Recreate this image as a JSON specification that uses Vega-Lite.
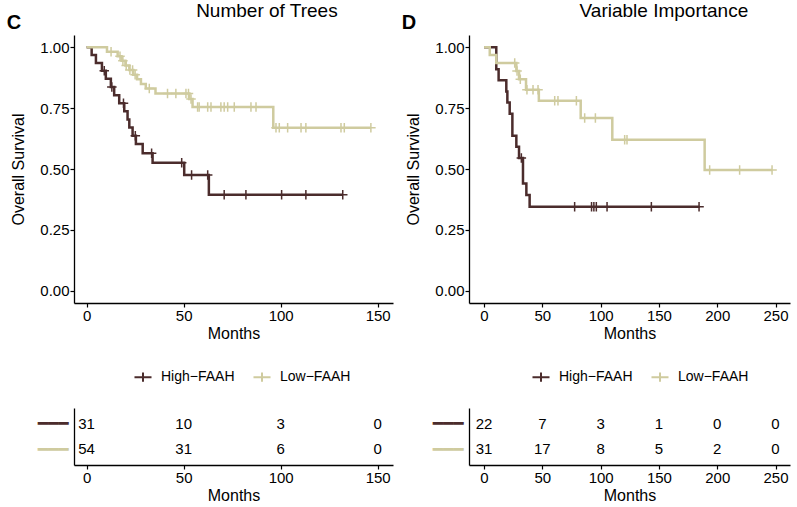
{
  "$schema": "https://vega.github.io/schema/vega-lite/v6.json",
  "padding": {"top": 2, "left": 6, "right": 2, "bottom": 0},
  "background": "white",
  "datasets": {
    "km": [
      {"panel": "C", "group": "High−FAAH", "t": 0, "s": 1},
      {"panel": "C", "group": "High−FAAH", "t": 2.6, "s": 0.968},
      {"panel": "C", "group": "High−FAAH", "t": 4.8, "s": 0.935},
      {"panel": "C", "group": "High−FAAH", "t": 7.9, "s": 0.903},
      {"panel": "C", "group": "High−FAAH", "t": 9.9, "s": 0.870},
      {"panel": "C", "group": "High−FAAH", "t": 12.5, "s": 0.837},
      {"panel": "C", "group": "High−FAAH", "t": 14.2, "s": 0.803},
      {"panel": "C", "group": "High−FAAH", "t": 16.8, "s": 0.770},
      {"panel": "C", "group": "High−FAAH", "t": 19.4, "s": 0.737},
      {"panel": "C", "group": "High−FAAH", "t": 21.1, "s": 0.703},
      {"panel": "C", "group": "High−FAAH", "t": 22.0, "s": 0.670},
      {"panel": "C", "group": "High−FAAH", "t": 23.7, "s": 0.636},
      {"panel": "C", "group": "High−FAAH", "t": 25.4, "s": 0.603},
      {"panel": "C", "group": "High−FAAH", "t": 28.9, "s": 0.565},
      {"panel": "C", "group": "High−FAAH", "t": 34.0, "s": 0.526},
      {"panel": "C", "group": "High−FAAH", "t": 50.3, "s": 0.475},
      {"panel": "C", "group": "High−FAAH", "t": 63.0, "s": 0.394},
      {"panel": "C", "group": "High−FAAH", "t": 132.0, "s": 0.394},
      {"panel": "C", "group": "Low−FAAH", "t": 0, "s": 1},
      {"panel": "C", "group": "Low−FAAH", "t": 10.5, "s": 0.981},
      {"panel": "C", "group": "Low−FAAH", "t": 16, "s": 0.963},
      {"panel": "C", "group": "Low−FAAH", "t": 18, "s": 0.944},
      {"panel": "C", "group": "Low−FAAH", "t": 20, "s": 0.925},
      {"panel": "C", "group": "Low−FAAH", "t": 22, "s": 0.906},
      {"panel": "C", "group": "Low−FAAH", "t": 24, "s": 0.887},
      {"panel": "C", "group": "Low−FAAH", "t": 26, "s": 0.868},
      {"panel": "C", "group": "Low−FAAH", "t": 28, "s": 0.849},
      {"panel": "C", "group": "Low−FAAH", "t": 30.5, "s": 0.830},
      {"panel": "C", "group": "Low−FAAH", "t": 35.5, "s": 0.810},
      {"panel": "C", "group": "Low−FAAH", "t": 52.9, "s": 0.787},
      {"panel": "C", "group": "Low−FAAH", "t": 54.6, "s": 0.754},
      {"panel": "C", "group": "Low−FAAH", "t": 96.2, "s": 0.669},
      {"panel": "C", "group": "Low−FAAH", "t": 146.5, "s": 0.669},
      {"panel": "D", "group": "High−FAAH", "t": 0, "s": 1},
      {"panel": "D", "group": "High−FAAH", "t": 10.5, "s": 0.909},
      {"panel": "D", "group": "High−FAAH", "t": 12.5, "s": 0.864},
      {"panel": "D", "group": "High−FAAH", "t": 19.1, "s": 0.818},
      {"panel": "D", "group": "High−FAAH", "t": 20.0, "s": 0.773},
      {"panel": "D", "group": "High−FAAH", "t": 22.0, "s": 0.727},
      {"panel": "D", "group": "High−FAAH", "t": 24.3, "s": 0.636},
      {"panel": "D", "group": "High−FAAH", "t": 27.7, "s": 0.591},
      {"panel": "D", "group": "High−FAAH", "t": 30.0, "s": 0.545},
      {"panel": "D", "group": "High−FAAH", "t": 33.4, "s": 0.440},
      {"panel": "D", "group": "High−FAAH", "t": 36.3, "s": 0.393},
      {"panel": "D", "group": "High−FAAH", "t": 39.1, "s": 0.345},
      {"panel": "D", "group": "High−FAAH", "t": 184.9, "s": 0.345},
      {"panel": "D", "group": "Low−FAAH", "t": 0, "s": 1},
      {"panel": "D", "group": "Low−FAAH", "t": 4.9, "s": 0.968},
      {"panel": "D", "group": "Low−FAAH", "t": 10.5, "s": 0.935},
      {"panel": "D", "group": "Low−FAAH", "t": 27.7, "s": 0.902},
      {"panel": "D", "group": "Low−FAAH", "t": 30.0, "s": 0.868},
      {"panel": "D", "group": "Low−FAAH", "t": 36.0, "s": 0.825},
      {"panel": "D", "group": "Low−FAAH", "t": 47.0, "s": 0.780},
      {"panel": "D", "group": "Low−FAAH", "t": 82.9, "s": 0.709},
      {"panel": "D", "group": "Low−FAAH", "t": 110.0, "s": 0.620},
      {"panel": "D", "group": "Low−FAAH", "t": 189.2, "s": 0.496},
      {"panel": "D", "group": "Low−FAAH", "t": 247.0, "s": 0.496}
    ],
    "cens": [
      {"panel": "C", "group": "High−FAAH", "t": 9.1, "s": 0.903},
      {"panel": "C", "group": "High−FAAH", "t": 13.0, "s": 0.837},
      {"panel": "C", "group": "High−FAAH", "t": 19.0, "s": 0.770},
      {"panel": "C", "group": "High−FAAH", "t": 25.1, "s": 0.636},
      {"panel": "C", "group": "High−FAAH", "t": 33.5, "s": 0.565},
      {"panel": "C", "group": "High−FAAH", "t": 49.0, "s": 0.526},
      {"panel": "C", "group": "High−FAAH", "t": 54.1, "s": 0.475},
      {"panel": "C", "group": "High−FAAH", "t": 62.4, "s": 0.475},
      {"panel": "C", "group": "High−FAAH", "t": 70.9, "s": 0.394},
      {"panel": "C", "group": "High−FAAH", "t": 82.1, "s": 0.394},
      {"panel": "C", "group": "High−FAAH", "t": 100.5, "s": 0.394},
      {"panel": "C", "group": "High−FAAH", "t": 113.0, "s": 0.394},
      {"panel": "C", "group": "High−FAAH", "t": 132.0, "s": 0.394},
      {"panel": "C", "group": "Low−FAAH", "t": 12.6, "s": 0.981},
      {"panel": "C", "group": "Low−FAAH", "t": 17.2, "s": 0.963},
      {"panel": "C", "group": "Low−FAAH", "t": 18.7, "s": 0.944},
      {"panel": "C", "group": "Low−FAAH", "t": 20.4, "s": 0.925},
      {"panel": "C", "group": "Low−FAAH", "t": 22.3, "s": 0.906},
      {"panel": "C", "group": "Low−FAAH", "t": 23.7, "s": 0.906},
      {"panel": "C", "group": "Low−FAAH", "t": 25.0, "s": 0.887},
      {"panel": "C", "group": "Low−FAAH", "t": 32.3, "s": 0.830},
      {"panel": "C", "group": "Low−FAAH", "t": 41.7, "s": 0.810},
      {"panel": "C", "group": "Low−FAAH", "t": 46.0, "s": 0.810},
      {"panel": "C", "group": "Low−FAAH", "t": 51.2, "s": 0.810},
      {"panel": "C", "group": "Low−FAAH", "t": 52.5, "s": 0.810},
      {"panel": "C", "group": "Low−FAAH", "t": 53.8, "s": 0.787},
      {"panel": "C", "group": "Low−FAAH", "t": 57.2, "s": 0.754},
      {"panel": "C", "group": "Low−FAAH", "t": 58.0, "s": 0.754},
      {"panel": "C", "group": "Low−FAAH", "t": 62.4, "s": 0.754},
      {"panel": "C", "group": "Low−FAAH", "t": 64.1, "s": 0.754},
      {"panel": "C", "group": "Low−FAAH", "t": 69.2, "s": 0.754},
      {"panel": "C", "group": "Low−FAAH", "t": 70.9, "s": 0.754},
      {"panel": "C", "group": "Low−FAAH", "t": 72.7, "s": 0.754},
      {"panel": "C", "group": "Low−FAAH", "t": 76.1, "s": 0.754},
      {"panel": "C", "group": "Low−FAAH", "t": 84.7, "s": 0.754},
      {"panel": "C", "group": "Low−FAAH", "t": 87.3, "s": 0.754},
      {"panel": "C", "group": "Low−FAAH", "t": 97.6, "s": 0.669},
      {"panel": "C", "group": "Low−FAAH", "t": 99.3, "s": 0.669},
      {"panel": "C", "group": "Low−FAAH", "t": 103.6, "s": 0.669},
      {"panel": "C", "group": "Low−FAAH", "t": 110.5, "s": 0.669},
      {"panel": "C", "group": "Low−FAAH", "t": 113.0, "s": 0.669},
      {"panel": "C", "group": "Low−FAAH", "t": 131.1, "s": 0.669},
      {"panel": "C", "group": "Low−FAAH", "t": 132.8, "s": 0.669},
      {"panel": "C", "group": "Low−FAAH", "t": 146.5, "s": 0.669},
      {"panel": "D", "group": "High−FAAH", "t": 32.0, "s": 0.545},
      {"panel": "D", "group": "High−FAAH", "t": 77.7, "s": 0.345},
      {"panel": "D", "group": "High−FAAH", "t": 92.2, "s": 0.345},
      {"panel": "D", "group": "High−FAAH", "t": 94.2, "s": 0.345},
      {"panel": "D", "group": "High−FAAH", "t": 96.3, "s": 0.345},
      {"panel": "D", "group": "High−FAAH", "t": 105.5, "s": 0.345},
      {"panel": "D", "group": "High−FAAH", "t": 143.5, "s": 0.345},
      {"panel": "D", "group": "High−FAAH", "t": 184.4, "s": 0.345},
      {"panel": "D", "group": "Low−FAAH", "t": 26.3, "s": 0.935},
      {"panel": "D", "group": "Low−FAAH", "t": 28.3, "s": 0.902},
      {"panel": "D", "group": "Low−FAAH", "t": 31.1, "s": 0.868},
      {"panel": "D", "group": "Low−FAAH", "t": 36.8, "s": 0.825},
      {"panel": "D", "group": "Low−FAAH", "t": 42.0, "s": 0.825},
      {"panel": "D", "group": "Low−FAAH", "t": 46.3, "s": 0.825},
      {"panel": "D", "group": "Low−FAAH", "t": 60.6, "s": 0.780},
      {"panel": "D", "group": "Low−FAAH", "t": 63.4, "s": 0.780},
      {"panel": "D", "group": "Low−FAAH", "t": 79.2, "s": 0.780},
      {"panel": "D", "group": "Low−FAAH", "t": 86.3, "s": 0.709},
      {"panel": "D", "group": "Low−FAAH", "t": 95.5, "s": 0.709},
      {"panel": "D", "group": "Low−FAAH", "t": 120.6, "s": 0.620},
      {"panel": "D", "group": "Low−FAAH", "t": 122.6, "s": 0.620},
      {"panel": "D", "group": "Low−FAAH", "t": 193.5, "s": 0.496},
      {"panel": "D", "group": "Low−FAAH", "t": 219.2, "s": 0.496},
      {"panel": "D", "group": "Low−FAAH", "t": 247.0, "s": 0.496}
    ],
    "risk": [
      {"panel": "C", "group": "High−FAAH", "t": 0, "n": 31},
      {"panel": "C", "group": "High−FAAH", "t": 50, "n": 10},
      {"panel": "C", "group": "High−FAAH", "t": 100, "n": 3},
      {"panel": "C", "group": "High−FAAH", "t": 150, "n": 0},
      {"panel": "C", "group": "Low−FAAH", "t": 0, "n": 54},
      {"panel": "C", "group": "Low−FAAH", "t": 50, "n": 31},
      {"panel": "C", "group": "Low−FAAH", "t": 100, "n": 6},
      {"panel": "C", "group": "Low−FAAH", "t": 150, "n": 0},
      {"panel": "D", "group": "High−FAAH", "t": 0, "n": 22},
      {"panel": "D", "group": "High−FAAH", "t": 50, "n": 7},
      {"panel": "D", "group": "High−FAAH", "t": 100, "n": 3},
      {"panel": "D", "group": "High−FAAH", "t": 150, "n": 1},
      {"panel": "D", "group": "High−FAAH", "t": 200, "n": 0},
      {"panel": "D", "group": "High−FAAH", "t": 250, "n": 0},
      {"panel": "D", "group": "Low−FAAH", "t": 0, "n": 31},
      {"panel": "D", "group": "Low−FAAH", "t": 50, "n": 17},
      {"panel": "D", "group": "Low−FAAH", "t": 100, "n": 8},
      {"panel": "D", "group": "Low−FAAH", "t": 150, "n": 5},
      {"panel": "D", "group": "Low−FAAH", "t": 200, "n": 2},
      {"panel": "D", "group": "Low−FAAH", "t": 250, "n": 0}
    ]
  },
  "hconcat": [
    {
      "title": {"text": "Number of Trees", "anchor": "middle", "fontSize": 19, "fontWeight": "normal", "dx": 67, "offset": -8},
      "vconcat": [
        {
          "width": 319, "height": 268,
          "title": {"text": "C", "anchor": "start", "frame": "bounds", "fontSize": 20, "fontWeight": "bold", "offset": 2, "dx": -4},
          "layer": [
            {
              "data": {"name": "km"},
              "transform": [{"filter": "datum.panel == 'C'"}],
              "mark": {"type": "line", "interpolate": "step-after", "strokeWidth": 2.5},
              "encoding": {
                "x": {"field": "t", "type": "quantitative", "scale": {"domain": [-6.5, 157.9], "nice": false, "zero": false}, "axis": {"values": [0, 50, 100, 150], "title": "Months"}},
                "y": {"field": "s", "type": "quantitative", "scale": {"domain": [-0.05, 1.05], "nice": false}, "axis": {"values": [0, 0.25, 0.5, 0.75, 1], "format": ".2f", "title": "Overall Survival"}},
                "color": {"field": "group", "type": "nominal", "scale": {"domain": ["High−FAAH", "Low−FAAH"], "range": ["#4b2c2c", "#cfcb9f"]},
                  "legend": {"orient": "none", "legendX": 59, "legendY": 332, "direction": "horizontal", "title": null}},
                "order": {"field": "t", "type": "quantitative"}
              }
            },
            {
              "data": {"name": "cens"},
              "transform": [{"filter": "datum.panel == 'C'"}],
              "mark": {"type": "point", "shape": "M0,-1L0,1M-1,0L1,0", "filled": false, "size": 90, "strokeWidth": 1.5, "opacity": 1},
              "encoding": {
                "x": {"field": "t", "type": "quantitative"},
                "y": {"field": "s", "type": "quantitative"},
                "color": {"field": "group", "type": "nominal"}
              }
            },
            {
              "mark": {"type": "text", "align": "left", "baseline": "middle", "fontSize": 16, "color": "#000"},
              "encoding": {"x": {"datum": 3.2}, "y": {"datum": 0.197}, "text": {"value": "p = 0.003"}}
            }
          ]
        },
        {
          "width": 319, "height": 57,
          "data": {"name": "risk"},
          "transform": [{"filter": "datum.panel == 'C'"}],
          "mark": {"type": "text", "fontSize": 15, "color": "#000", "baseline": "middle"},
          "encoding": {
            "x": {"field": "t", "type": "quantitative", "scale": {"domain": [-6.5, 157.9], "nice": false, "zero": false}, "axis": {"values": [0, 50, 100, 150], "title": "Months"}},
            "y": {"field": "group", "type": "nominal", "scale": {"domain": ["High−FAAH", "Low−FAAH"], "type": "point", "padding": 0.6},
              "axis": {"title": null, "ticks": false, "labelExpr": "'━━━'", "labelFont": "DejaVu Sans", "labelFontSize": 17, "labelPadding": 6,
                "labelColor": {"condition": {"test": "datum.value == 'High−FAAH'", "value": "#4b2c2c"}, "value": "#cfcb9f"}}},
            "text": {"field": "n", "type": "quantitative"}
          }
        }
      ],
      "spacing": 22,
      "resolve": {"scale": {"color": "independent"}, "legend": {"color": "independent"}}
    },
    {
      "title": {"text": "Variable Importance", "anchor": "middle", "fontSize": 19, "fontWeight": "normal", "dx": 68, "offset": -8},
      "vconcat": [
        {
          "width": 321, "height": 268,
          "title": {"text": "D", "anchor": "start", "frame": "bounds", "fontSize": 20, "fontWeight": "bold", "offset": 2, "dx": -4},
          "layer": [
            {
              "data": {"name": "km"},
              "transform": [{"filter": "datum.panel == 'D'"}],
              "mark": {"type": "line", "interpolate": "step-after", "strokeWidth": 2.5},
              "encoding": {
                "x": {"field": "t", "type": "quantitative", "scale": {"domain": [-12.9, 262.4], "nice": false, "zero": false}, "axis": {"values": [0, 50, 100, 150, 200, 250], "title": "Months"}},
                "y": {"field": "s", "type": "quantitative", "scale": {"domain": [-0.05, 1.05], "nice": false}, "axis": {"values": [0, 0.25, 0.5, 0.75, 1], "format": ".2f", "title": "Overall Survival"}},
                "color": {"field": "group", "type": "nominal", "scale": {"domain": ["High−FAAH", "Low−FAAH"], "range": ["#4b2c2c", "#cfcb9f"]},
                  "legend": {"orient": "none", "legendX": 62, "legendY": 332, "direction": "horizontal", "title": null}},
                "order": {"field": "t", "type": "quantitative"}
              }
            },
            {
              "data": {"name": "cens"},
              "transform": [{"filter": "datum.panel == 'D'"}],
              "mark": {"type": "point", "shape": "M0,-1L0,1M-1,0L1,0", "filled": false, "size": 90, "strokeWidth": 1.5, "opacity": 1},
              "encoding": {
                "x": {"field": "t", "type": "quantitative"},
                "y": {"field": "s", "type": "quantitative"},
                "color": {"field": "group", "type": "nominal"}
              }
            },
            {
              "mark": {"type": "text", "align": "left", "baseline": "middle", "fontSize": 16, "color": "#000"},
              "encoding": {"x": {"datum": 6.3}, "y": {"datum": 0.197}, "text": {"value": "p = 0.004"}}
            }
          ]
        },
        {
          "width": 321, "height": 57,
          "data": {"name": "risk"},
          "transform": [{"filter": "datum.panel == 'D'"}],
          "mark": {"type": "text", "fontSize": 15, "color": "#000", "baseline": "middle"},
          "encoding": {
            "x": {"field": "t", "type": "quantitative", "scale": {"domain": [-12.9, 262.4], "nice": false, "zero": false}, "axis": {"values": [0, 50, 100, 150, 200, 250], "title": "Months"}},
            "y": {"field": "group", "type": "nominal", "scale": {"domain": ["High−FAAH", "Low−FAAH"], "type": "point", "padding": 0.6},
              "axis": {"title": null, "ticks": false, "labelExpr": "'━━━'", "labelFont": "DejaVu Sans", "labelFontSize": 17, "labelPadding": 6,
                "labelColor": {"condition": {"test": "datum.value == 'High−FAAH'", "value": "#4b2c2c"}, "value": "#cfcb9f"}}},
            "text": {"field": "n", "type": "quantitative"}
          }
        }
      ],
      "spacing": 22,
      "resolve": {"scale": {"color": "independent"}, "legend": {"color": "independent"}}
    }
  ],
  "spacing": 8,
  "resolve": {"scale": {"color": "independent"}, "legend": {"color": "independent"}},
  "config": {
    "font": "Liberation Sans",
    "view": {"stroke": null},
    "title": {"color": "#000", "font": "Liberation Sans"},
    "axis": {"grid": false, "domainColor": "#000", "domainWidth": 1.3, "tickColor": "#000", "tickSize": 4, "tickWidth": 1.2,
      "labelColor": "#000", "labelFontSize": 15, "labelFont": "Liberation Sans", "labelPadding": 1,
      "titleFontSize": 16, "titleFontWeight": "normal", "titleColor": "#000", "titleFont": "Liberation Sans", "titlePadding": 2},
    "axisY": {"titlePadding": 13},
    "legend": {"labelFontSize": 14, "labelColor": "#000", "labelFont": "Liberation Sans", "symbolType": "M-1,0L1,0M0,-0.55L0,0.55", "symbolSize": 290, "symbolStrokeWidth": 2, "columnPadding": 14, "labelOffset": 8}
  }
}
